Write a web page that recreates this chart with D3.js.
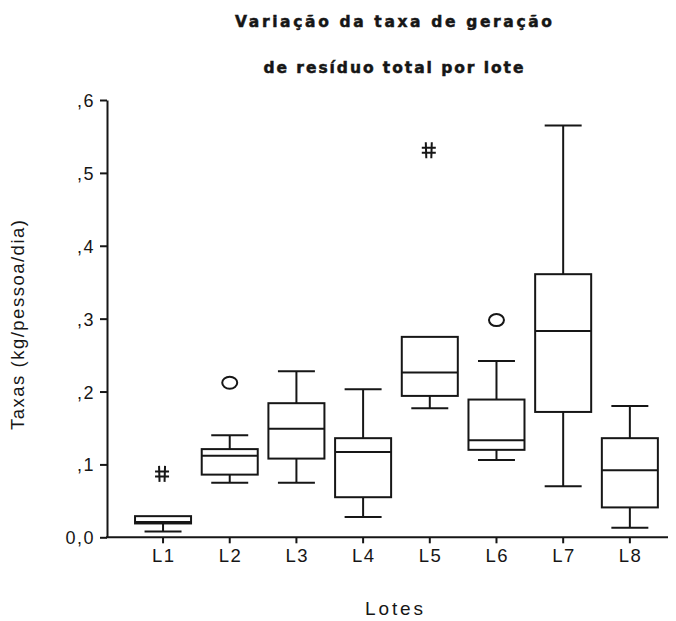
<!DOCTYPE html>
<html>
<head>
<meta charset="utf-8">
<script src="https://cdn.jsdelivr.net/npm/d3@7/dist/d3.min.js"></script>
<style>
  html, body { margin: 0; padding: 0; background: #fff; }
  svg { display: block; }
</style>
</head>
<body>
<svg id="chart" width="676" height="621"></svg>
<script>
// Lotes and their box-plot summaries (kg/pessoa/dia)
const lotes       = ["L1", "L2", "L3", "L4", "L5", "L6", "L7", "L8"];
const whiskerLow  = [0.008, 0.075, 0.075, 0.028, 0.177, 0.106, 0.070, 0.013];
const quartil1    = [0.019, 0.086, 0.108, 0.055, 0.194, 0.120, 0.172, 0.041];
const mediana     = [0.021, 0.112, 0.149, 0.117, 0.226, 0.133, 0.283, 0.092];
const quartil3    = [0.029, 0.121, 0.184, 0.136, 0.275, 0.189, 0.361, 0.136];
const whiskerHigh = [0.029, 0.140, 0.228, 0.203, 0.275, 0.242, 0.565, 0.180];

// Outliers: "out" = circle, "extreme" = star
const outlierLote  = ["L1", "L2", "L5", "L6"];
const outlierValor = [0.087, 0.212, 0.531, 0.298];
const outlierTipo  = ["extreme", "out", "extreme", "out"];

const yTicks      = [0, 0.1, 0.2, 0.3, 0.4, 0.5, 0.6];
const yTickLabels = ["0,0", ",1", ",2", ",3", ",4", ",5", ",6"];

const titulo1 = "Variação da taxa de geração";
const titulo2 = "de resíduo total por lote";
const eixoY = "Taxas (kg/pessoa/dia)";
const eixoX = "Lotes";

const ink = "#161616";
const svg = d3.select("#chart");

const axisX0 = 107, axisY0 = 537.3, axisTop = 100, axisRight = 668;

const y = d3.scaleLinear().domain([0, 0.6]).range([axisY0, axisTop]);
const x = d3.scaleBand().domain(lotes).range([129.7, 663.2]).padding(0);
const boxW = x.bandwidth() * 0.84;
const capW = boxW * 0.66;
const cx = l => x(l) + x.bandwidth() / 2;

// Title
const t = svg.append("g")
  .attr("font-family", "'DejaVu Sans', Verdana, sans-serif")
  .attr("font-weight", "900")
  .attr("font-size", 15.5)
  .attr("fill", ink)
  .attr("stroke", ink)
  .attr("stroke-width", 0.5)
  .attr("text-anchor", "middle");
t.append("text").attr("x", 393.5).attr("y", 27)
  .attr("textLength", 317).attr("lengthAdjust", "spacing").text(titulo1);
t.append("text").attr("x", 393.5).attr("y", 72.5)
  .attr("textLength", 260).attr("lengthAdjust", "spacing").text(titulo2);

// Y axis
const yAxis = d3.axisLeft(y)
  .tickValues(yTicks)
  .tickFormat((d, i) => yTickLabels[i])
  .tickSize(7)
  .tickSizeOuter(0)
  .tickPadding(6);
const gy = svg.append("g").attr("transform", `translate(${axisX0},0)`).call(yAxis);
gy.select(".domain").attr("stroke", ink).attr("stroke-width", 2);
gy.selectAll(".tick line").attr("stroke", ink).attr("stroke-width", 2);
gy.selectAll(".tick text")
  .attr("font-family", "'Liberation Sans', Arial, sans-serif")
  .attr("font-size", 18)
  .attr("letter-spacing", "1.5px")
  .attr("fill", ink)
  .attr("x", -12)
  .attr("dy", "0.36em");

// X axis
svg.append("line")
  .attr("x1", axisX0 - 1).attr("x2", axisRight)
  .attr("y1", axisY0).attr("y2", axisY0)
  .attr("stroke", ink).attr("stroke-width", 2);
const xAxis = d3.axisBottom(x).tickSize(6).tickSizeOuter(0).tickPadding(6);
const gx = svg.append("g").attr("transform", `translate(0,${axisY0})`).call(xAxis);
gx.select(".domain").remove();
gx.selectAll(".tick line").attr("stroke", ink).attr("stroke-width", 2);
gx.selectAll(".tick text")
  .attr("font-family", "'Liberation Sans', Arial, sans-serif")
  .attr("font-size", 18.5)
  .attr("letter-spacing", "1.5px")
  .attr("fill", ink)
  .attr("dx", "0.75px");

// Axis titles
svg.append("text")
  .attr("transform", "translate(24,325) rotate(-90)")
  .attr("text-anchor", "middle")
  .attr("font-family", "'Liberation Sans', Arial, sans-serif")
  .attr("font-size", 18.5)
  .attr("fill", ink)
  .attr("textLength", 210).attr("lengthAdjust", "spacing")
  .text(eixoY);
svg.append("text")
  .attr("x", 394).attr("y", 615)
  .attr("text-anchor", "middle")
  .attr("font-family", "'Liberation Sans', Arial, sans-serif")
  .attr("font-size", 19)
  .attr("fill", ink)
  .attr("textLength", 58).attr("lengthAdjust", "spacing")
  .text(eixoX);

// Boxes
const boxes = lotes.map((l, i) => ({
  l, lo: whiskerLow[i], q1: quartil1[i], med: mediana[i], q3: quartil3[i], hi: whiskerHigh[i]
}));
const g = svg.append("g")
  .attr("stroke", ink).attr("stroke-width", 2).attr("fill", "none");
const b = g.selectAll("g.box").data(boxes).join("g").attr("class", "box");

// whisker stems and caps
b.filter(d => d.hi > d.q3).append("line")
  .attr("x1", d => cx(d.l)).attr("x2", d => cx(d.l))
  .attr("y1", d => y(d.q3)).attr("y2", d => y(d.hi));
b.filter(d => d.hi > d.q3).append("line")
  .attr("x1", d => cx(d.l) - capW / 2).attr("x2", d => cx(d.l) + capW / 2)
  .attr("y1", d => y(d.hi)).attr("y2", d => y(d.hi));
b.filter(d => d.lo < d.q1).append("line")
  .attr("x1", d => cx(d.l)).attr("x2", d => cx(d.l))
  .attr("y1", d => y(d.q1)).attr("y2", d => y(d.lo));
b.filter(d => d.lo < d.q1).append("line")
  .attr("x1", d => cx(d.l) - capW / 2).attr("x2", d => cx(d.l) + capW / 2)
  .attr("y1", d => y(d.lo)).attr("y2", d => y(d.lo));

// box and median
b.append("rect")
  .attr("x", d => cx(d.l) - boxW / 2)
  .attr("width", boxW)
  .attr("y", d => y(d.q3))
  .attr("height", d => y(d.q1) - y(d.q3))
  .attr("fill", "#fff");
b.append("line")
  .attr("x1", d => cx(d.l) - boxW / 2).attr("x2", d => cx(d.l) + boxW / 2)
  .attr("y1", d => y(d.med)).attr("y2", d => y(d.med));

// Outliers
const outs = outlierLote.map((l, i) => ({ l, v: outlierValor[i], tipo: outlierTipo[i] }));
const o = svg.append("g").attr("stroke", ink).attr("fill", "none");
o.selectAll("ellipse").data(outs.filter(d => d.tipo === "out")).join("ellipse")
  .attr("cx", d => cx(d.l)).attr("cy", d => y(d.v))
  .attr("rx", 7.5).attr("ry", 6).attr("stroke-width", 2);
o.selectAll("path").data(outs.filter(d => d.tipo === "extreme")).join("path")
  .attr("stroke-width", 2)
  .attr("d", d => {
    const px = cx(d.l) - 1, py = y(d.v);
    return `M${px - 3},${py - 8}L${px - 2.5},${py + 8}` +
           `M${px + 3},${py - 8}L${px + 2.5},${py + 8}` +
           `M${px - 7},${py - 2.5}L${px + 7},${py - 2.5}` +
           `M${px - 7},${py + 2.5}L${px + 7},${py + 2.5}`;
  });
</script>
</body>
</html>
